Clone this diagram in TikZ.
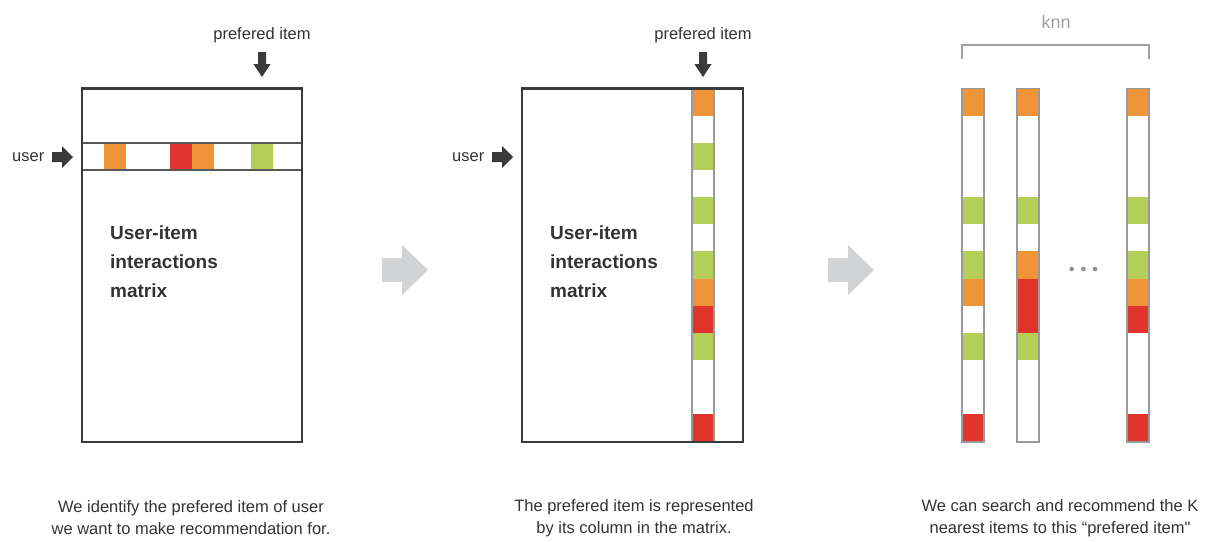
\documentclass[tikz,border=0pt]{standalone}
\usepackage{fontspec}
\setmainfont{Liberation Sans}
% same face without TeX quote ligatures, for a straight double quote
\newfontfamily\rawfont{Liberation Sans}
\definecolor{txt}{HTML}{333333}
\definecolor{frame}{HTML}{3A3A3A}
\definecolor{cellO}{HTML}{F0943A}
\definecolor{cellR}{HTML}{E0352C}
\definecolor{cellG}{HTML}{B4CE5A}
\definecolor{colline}{HTML}{9A9A9A}
\definecolor{bigarrow}{HTML}{D2D3D5}
\definecolor{knngray}{HTML}{A0A0A0}
\begin{document}
\begin{tikzpicture}[x=1pt,y=-1pt,
  lbl/.style={font=\fontsize{16.5}{20}\selectfont, text=txt, inner sep=0pt},
  caption/.style={font=\fontsize{16.5}{22}\selectfont, text=txt, inner sep=0pt, align=center},
  title/.style={font=\fontsize{19}{29}\selectfont\bfseries, text=txt, inner sep=0pt, align=left, anchor=west},
  mframe/.style={draw=frame, line width=2.7pt},
  rowline/.style={draw=frame!85, line width=1.4pt},
  colframe/.style={draw=colline, line width=1.3pt},
  downarrow/.pic={\fill[frame] (-4,0) -- (4,0) -- (4,12) -- (8.6,12) -- (0,25) -- (-8.6,12) -- (-4,12) -- cycle;},
  rightarrow/.pic={\fill[frame] (0,-5) -- (10,-5) -- (10,-11) -- (21,0) -- (10,11) -- (10,5) -- (0,5) -- cycle;},
  steparrow/.pic={\fill[bigarrow] (0,-12) -- (20,-12) -- (20,-25) -- (46,0) -- (20,25) -- (20,12) -- (0,12) -- cycle;}
]
\useasboundingbox (0,0) rectangle (1207,541);

% row geometry shared by the item columns
\def\rtop{88.5}
\def\rh{27.15}
\newcommand{\itemcell}[3]{% x-left, row, colour
  \fill[#3] (#1,{\rtop+#2*\rh}) rectangle ++(22,\rh);}

% ---------- panel 1: the user row ----------
\node[lbl] (pref1) at (262,35) {prefered item};
\pic (pref1arrow) at (262,52) {downarrow};
\node[lbl, anchor=west] (user1) at (12,157) {user};
\pic (user1arrow) at (52,157) {rightarrow};
\fill[cellO] (104,144) rectangle (126,169);
\fill[cellR] (170,144) rectangle (192,169);
\fill[cellO] (192,144) rectangle (214,169);
\fill[cellG] (251,144) rectangle (273,169);
\draw[rowline] (82,143) -- (302,143);
\draw[rowline] (82,170) -- (302,170);
\draw[mframe] (82,88.5) rectangle (302,442);
\node[title] (title1) at (110,262) {User-item\\interactions\\matrix};
\node[caption] (cap1) at (191,518) {We identify the prefered item of user\\we want to make recommendation for.};

\pic (step1) at (382,270) {steparrow};

% ---------- panel 2: the item column ----------
\node[lbl] (pref2) at (703,35) {prefered item};
\pic (pref2arrow) at (703,52) {downarrow};
\node[lbl, anchor=west] (user2) at (452,157) {user};
\pic (user2arrow) at (492,157) {rightarrow};
\foreach \r/\c in {0/cellO,2/cellG,4/cellG,6/cellG,7/cellO,8/cellR,9/cellG,12/cellR}
  {\itemcell{692}{\r}{\c}}
\draw[colframe] (692,88.5) rectangle (714,442);
\draw[mframe] (522,88.5) rectangle (743,442);
\node[title] (title2) at (550,262) {User-item\\interactions\\matrix};
\node[caption] (cap2) at (634,518) {The prefered item is represented\\by its column in the matrix.};

\pic (step2) at (828,270) {steparrow};

% ---------- panel 3: nearest item columns ----------
\node[font=\fontsize{18}{20}\selectfont, text=knngray, inner sep=0pt] (knn) at (1056,22) {knn};
\draw[knngray, line width=1.1pt] (962,59) -- (962,45) -- (1149,45) -- (1149,59);
\foreach \r/\c in {0/cellO,4/cellG,6/cellG,7/cellO,9/cellG,12/cellR}
  {\itemcell{962}{\r}{\c}}
\foreach \r/\c in {0/cellO,4/cellG,6/cellO,7/cellR,8/cellR,9/cellG}
  {\itemcell{1017}{\r}{\c}}
\foreach \r/\c in {0/cellO,4/cellG,6/cellG,7/cellO,8/cellR,12/cellR}
  {\itemcell{1127}{\r}{\c}}
\draw[colframe] (962,88.5) rectangle (984,442);
\draw[colframe] (1017,88.5) rectangle (1039,442);
\draw[colframe] (1127,88.5) rectangle (1149,442);
\foreach \x in {1071.7,1083.3,1095}
  \fill[knngray!90!black] (\x,269) circle (2.3);
\node[caption] (cap3) at (1060,518) {We can search and recommend the K\\nearest items to this “prefered item{\rawfont"}};
\end{tikzpicture}
\end{document}
